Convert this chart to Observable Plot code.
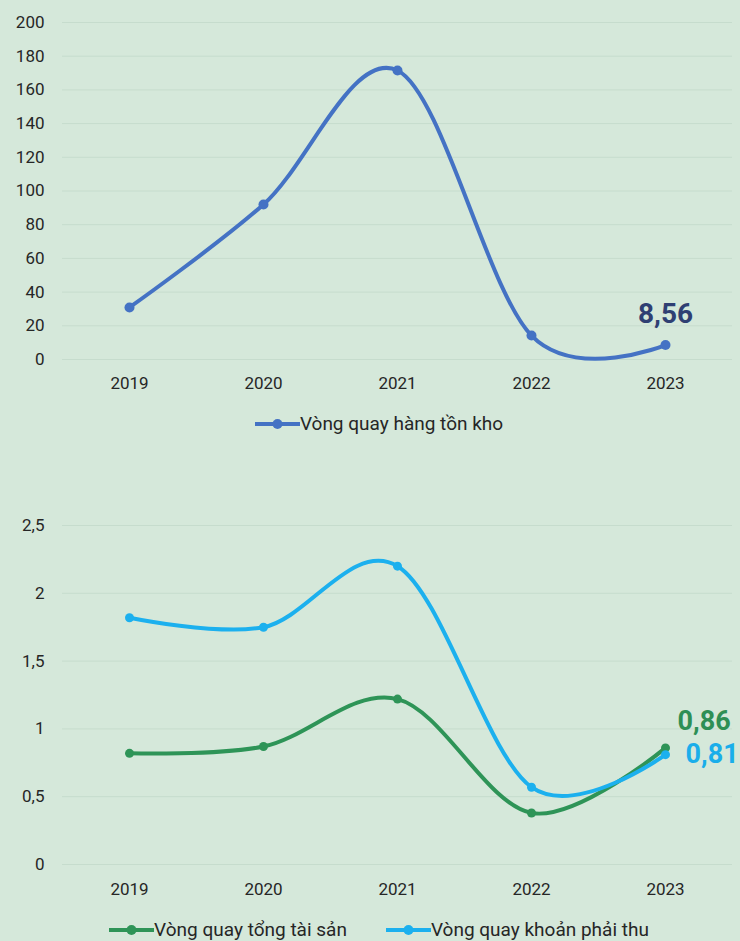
<!DOCTYPE html>
<html>
<head>
<meta charset="utf-8">
<script src="https://cdn.jsdelivr.net/npm/d3@7"></script>
<script src="https://cdn.jsdelivr.net/npm/@observablehq/plot@0.6"></script>
<style>
  html, body { margin: 0; padding: 0; background: #d5e8da; }
  #wrap { position: relative; width: 740px; height: 941px; background: #d5e8da; font-family: Roboto, "Noto Sans", sans-serif; overflow: hidden; }
  .chart { position: absolute; left: 0; }
  .legend { position: absolute; left: 0; width: 722px; padding-left: 18px; display: flex; justify-content: center; gap: 39px; font-size: 19px; color: #262626; line-height: 22px; }
  .legend .item { display: flex; align-items: center; white-space: nowrap; }
  .legend svg { margin-right: 0px; }
</style>
</head>
<body>
<div id="wrap">
  <div id="top" class="chart" style="top:0"></div>
  <div id="leg1" class="legend" style="top:413px"></div>
  <div id="bottom" class="chart" style="top:500px"></div>
  <div id="leg2" class="legend" style="top:919px"></div>
</div>
<script>
const years = ["2019", "2020", "2021", "2022", "2023"];
const inventoryTurnover = [30.9, 92, 171.5, 14.2, 8.56];
const assetTurnover = [0.82, 0.87, 1.22, 0.38, 0.86];
const receivablesTurnover = [1.82, 1.75, 2.2, 0.57, 0.81];
const topTicks = [0, 20, 40, 60, 80, 100, 120, 140, 160, 180, 200];
const bottomTicks = [0, 0.5, 1, 1.5, 2, 2.5];
const seriesNames = ["Vòng quay hàng tồn kho", "Vòng quay tổng tài sản", "Vòng quay khoản phải thu"];
const colors = ["#4472c4", "#2e9457", "#1cb0ee"];
const labelColors = ["#2f3f73", "#2e8f55", "#1aaeea"];

const comma = d => String(d).replace(".", ",");
const fmt2 = d => d.toFixed(2).replace(".", ",");

const topData = years.map((y, i) => ({year: y, value: inventoryTurnover[i]}));
const bottomData = [
  ...years.map((y, i) => ({year: y, value: assetTurnover[i], series: seriesNames[1]})),
  ...years.map((y, i) => ({year: y, value: receivablesTurnover[i], series: seriesNames[2]}))
];

const common = {
  width: 740,
  height: 400,
  marginLeft: 62,
  marginRight: 8,
  style: {background: "transparent", fontFamily: "Roboto, 'Noto Sans', sans-serif", fontSize: "17px", color: "#262626", overflow: "visible"},
};

const gridStyle = {stroke: "#c6dccd", strokeOpacity: 1, strokeWidth: 1};

const topChart = Plot.plot({
  ...common,
  marginTop: 22,
  marginBottom: 41,
  x: {type: "point", domain: years, padding: 0.5, label: null},
  y: {domain: [0, 200], label: null},
  marks: [
    Plot.gridY(topTicks, gridStyle),
    Plot.axisY(topTicks, {tickSize: 0, tickPadding: 18, fontSize: 17, label: null}),
    Plot.axisX({tickSize: 0, tickPadding: 17, fontSize: 17, label: null}),
    Plot.line(topData, {x: "year", y: "value", stroke: colors[0], strokeWidth: 4, curve: "cardinal"}),
    Plot.dot(topData, {x: "year", y: "value", r: 5, fill: colors[0]}),
    Plot.text(topData.slice(-1), {x: "year", y: "value", text: d => fmt2(d.value), dx: 0, dy: -31, fill: labelColors[0], fontSize: 28, fontWeight: "bold"})
  ]
});
document.getElementById("top").append(topChart);

const bottomChart = Plot.plot({
  ...common,
  marginTop: 25,
  marginBottom: 36,
  x: {type: "point", domain: years, padding: 0.5, label: null},
  y: {domain: [0, 2.5], label: null},
  color: {domain: seriesNames.slice(1), range: colors.slice(1)},
  marks: [
    Plot.gridY(bottomTicks, gridStyle),
    Plot.axisY(bottomTicks, {tickSize: 0, tickPadding: 18, fontSize: 17, tickFormat: comma, label: null}),
    Plot.axisX({tickSize: 0, tickPadding: 18, fontSize: 17, label: null}),
    Plot.line(bottomData, {x: "year", y: "value", z: "series", stroke: "series", strokeWidth: 4, curve: "cardinal"}),
    Plot.dot(bottomData, {x: "year", y: "value", fill: "series", r: 4.5}),
    Plot.text(bottomData.filter(d => d.year === "2023" && d.series === seriesNames[1]), {x: "year", y: "value", text: d => fmt2(d.value), dx: 12, dy: -27, textAnchor: "start", fill: labelColors[1], fontSize: 27, fontWeight: "bold"}),
    Plot.text(bottomData.filter(d => d.year === "2023" && d.series === seriesNames[2]), {x: "year", y: "value", text: d => fmt2(d.value), dx: 20, dy: 0, textAnchor: "start", fill: labelColors[2], fontSize: 27, fontWeight: "bold"})
  ]
});
document.getElementById("bottom").append(bottomChart);

function legendItem(name, color) {
  const div = document.createElement("div");
  div.className = "item";
  div.innerHTML = `<svg width="45" height="12"><line x1="0" y1="6" x2="45" y2="6" stroke="${color}" stroke-width="4"/><circle cx="22.5" cy="6" r="5" fill="${color}"/></svg><span>${name}</span>`;
  return div;
}
document.getElementById("leg1").append(legendItem(seriesNames[0], colors[0]));
document.getElementById("leg2").append(legendItem(seriesNames[1], colors[1]), legendItem(seriesNames[2], colors[2]));
</script>
</body>
</html>
